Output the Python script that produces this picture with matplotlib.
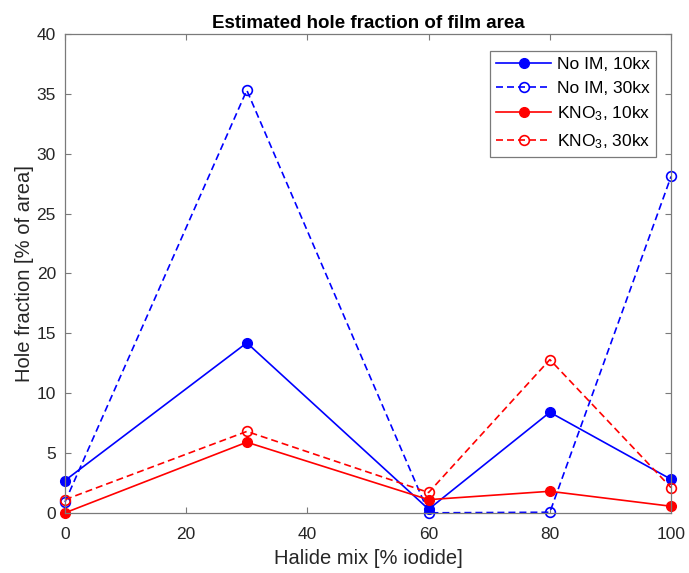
import matplotlib
matplotlib.use("Agg")
import matplotlib.pyplot as plt

# halide mix values (% iodide)
iodide = [0, 30, 60, 80, 100]

# estimated hole fraction (% of area)
no_im_10kx = [2.7, 14.2, 0.3, 8.4, 2.8]
no_im_30kx = [0.9, 35.3, 0.0, 0.05, 28.1]
kno3_10kx = [0.0, 5.9, 1.1, 1.8, 0.55]
kno3_30kx = [1.1, 6.8, 1.7, 12.8, 2.1]

labels = ["No IM, 10kx", "No IM, 30kx", "KNO$_3$, 10kx", "KNO$_3$, 30kx"]

plt.rcParams["font.family"] = ["Liberation Sans", "DejaVu Sans"]
plt.rcParams["mathtext.fontset"] = "custom"
plt.rcParams["mathtext.rm"] = "Liberation Sans"
plt.rcParams["mathtext.it"] = "Liberation Sans"

text_col = "#262626"
line_col = "#7a7a7a"

fig = plt.figure(figsize=(6.89, 5.73), dpi=100)
ax = fig.add_axes([0.0943, 0.105, 0.8797, 0.8357])

dash = (4.2, 2.4)
common = dict(linewidth=1.2, markersize=7, clip_on=False)
ax.plot(iodide, no_im_10kx, "-o", color="blue", label=labels[0], **common)
ax.plot(iodide, no_im_30kx, "--o", color="blue", markerfacecolor="none",
        markeredgewidth=1.2, dashes=dash, label=labels[1], **common)
ax.plot(iodide, kno3_10kx, "-o", color="red", label=labels[2], **common)
ax.plot(iodide, kno3_30kx, "--o", color="red", markerfacecolor="none",
        markeredgewidth=1.2, dashes=dash, label=labels[3], **common)

ax.set_xlim(0, 100)
ax.set_ylim(0, 40)
ax.set_xticks(range(0, 101, 20))
ax.set_yticks(range(0, 41, 5))

ax.tick_params(direction="in", top=True, right=True, length=4.3, width=0.8,
               colors=line_col, labelsize=12.5, labelcolor=text_col)
ax.tick_params(axis="x", pad=10)
ax.tick_params(axis="y", pad=6.5)
for s in ax.spines.values():
    s.set_color(line_col)
    s.set_linewidth(0.9)

ax.set_title("Estimated hole fraction of film area", fontsize=13.5,
             fontweight="bold", color="black", pad=4)
ax.set_xlabel("Halide mix [% iodide]", fontsize=14.5, color=text_col, labelpad=5)
ax.set_ylabel("Hole fraction [% of area]", fontsize=14.5, color=text_col, labelpad=2)

leg = ax.legend(loc="upper right", bbox_to_anchor=(0.975, 0.965), fontsize=12.5,
                fancybox=False, framealpha=1, edgecolor=line_col,
                handlelength=3.2, handletextpad=0.3, borderpad=0.35,
                labelspacing=0.5, borderaxespad=0)
leg.get_frame().set_linewidth(0.9)
for t in leg.get_texts():
    t.set_color("black")

fig.savefig("out.png", dpi=100)
